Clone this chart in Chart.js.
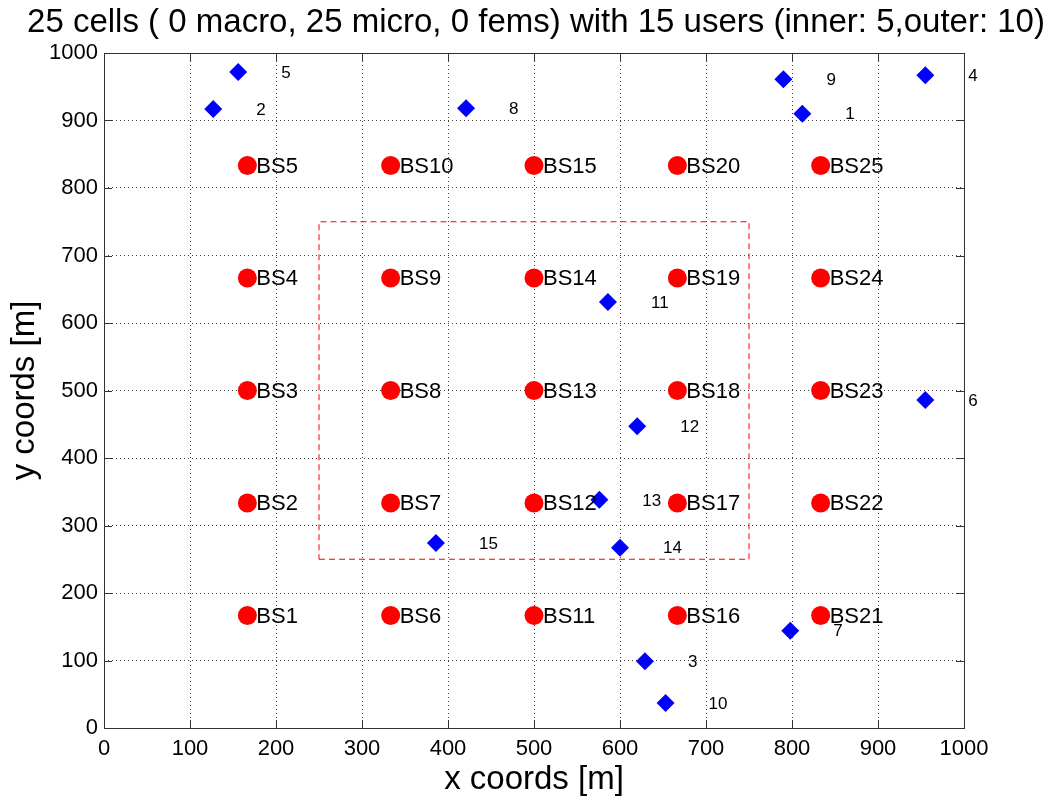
<!DOCTYPE html>
<html>
<head>
<meta charset="utf-8">
<title>cells and users</title>
<script src="https://cdn.jsdelivr.net/npm/chart.js@4.4.0/dist/chart.umd.min.js"></script>
<style>
  body { margin: 0; background: #fff; }
  canvas { display: block; }
</style>
</head>
<body>
<canvas id="layout" width="1049" height="800"></canvas>
<script>
// base stations (micro cells)
const bsX = [166.7, 166.7, 166.7, 166.7, 166.7, 333.3, 333.3, 333.3, 333.3, 333.3,
             500, 500, 500, 500, 500, 666.7, 666.7, 666.7, 666.7, 666.7,
             833.3, 833.3, 833.3, 833.3, 833.3];
const bsY = [166.7, 333.3, 500, 666.7, 833.3, 166.7, 333.3, 500, 666.7, 833.3,
             166.7, 333.3, 500, 666.7, 833.3, 166.7, 333.3, 500, 666.7, 833.3,
             166.7, 333.3, 500, 666.7, 833.3];
const bsNames = ['BS1', 'BS2', 'BS3', 'BS4', 'BS5', 'BS6', 'BS7', 'BS8', 'BS9', 'BS10',
                 'BS11', 'BS12', 'BS13', 'BS14', 'BS15', 'BS16', 'BS17', 'BS18', 'BS19', 'BS20',
                 'BS21', 'BS22', 'BS23', 'BS24', 'BS25'];

// users
const userIds = ['1', '2', '3', '4', '5', '6', '7', '8', '9', '10', '11', '12', '13', '14', '15'];
const userX = [812, 127, 629, 955, 156, 955, 798, 421, 790, 653, 586, 620, 576, 600, 386];
const userY = [910, 917, 99, 967, 972, 486, 144, 918, 961, 37, 631, 447, 338, 267, 274];

// inner region outline
const innerX = [250, 750, 750, 250, 250];
const innerY = [250, 250, 750, 750, 250];

const xTicks = [0, 100, 200, 300, 400, 500, 600, 700, 800, 900, 1000];
const yTicks = [0, 100, 200, 300, 400, 500, 600, 700, 800, 900, 1000];

const titleText = '25 cells ( 0 macro, 25 micro, 0 fems) with 15 users (inner: 5,outer: 10)';
const FONT = '"Liberation Sans", Arial, sans-serif';

const toPoints = (xs, ys) => xs.map((x, i) => ({ x: x, y: ys[i] }));

// title, text labels next to the markers, box with inward ticks
const annotate = {
  id: 'annotate',
  afterDatasetsDraw(chart) {
    const ctx = chart.ctx;
    const xs = chart.scales.x, ys = chart.scales.y;
    ctx.save();
    ctx.fillStyle = '#000';
    ctx.textBaseline = 'middle';
    ctx.textAlign = 'left';
    ctx.font = '22px ' + FONT;
    bsNames.forEach((name, i) => {
      ctx.fillText(name, xs.getPixelForValue(bsX[i]) + 9, ys.getPixelForValue(bsY[i]) + 1);
    });
    ctx.font = '17px ' + FONT;
    userIds.forEach((id, i) => {
      ctx.fillText(id, xs.getPixelForValue(userX[i] + 50), ys.getPixelForValue(userY[i]) + 1);
    });
    ctx.restore();
  },
  afterDraw(chart) {
    const ctx = chart.ctx;
    const a = chart.chartArea;
    const xs = chart.scales.x, ys = chart.scales.y;
    ctx.save();
    ctx.strokeStyle = '#333';
    ctx.lineWidth = 1;
    ctx.strokeRect(a.left + 0.5, a.top + 0.5, a.right - a.left, a.bottom - a.top);
    ctx.beginPath();
    xTicks.forEach(v => {
      const px = Math.round(xs.getPixelForValue(v)) + 0.5;
      ctx.moveTo(px, a.bottom); ctx.lineTo(px, a.bottom - 8);
      ctx.moveTo(px, a.top); ctx.lineTo(px, a.top + 8);
    });
    yTicks.forEach(v => {
      const py = Math.round(ys.getPixelForValue(v)) + 0.5;
      ctx.moveTo(a.left, py); ctx.lineTo(a.left + 8, py);
      ctx.moveTo(a.right, py); ctx.lineTo(a.right - 8, py);
    });
    ctx.stroke();

    // title (MATLAB centers it a little right of the axes)
    ctx.fillStyle = '#000';
    ctx.font = '33px ' + FONT;
    ctx.textAlign = 'center';
    ctx.textBaseline = 'alphabetic';
    ctx.fillText(titleText, 536, 32);
    ctx.restore();
  }
};

new Chart(document.getElementById('layout'), {
  type: 'scatter',
  data: {
    datasets: [
      {
        label: 'inner region',
        data: toPoints(innerX, innerY),
        showLine: true,
        borderColor: '#ff0000',
        borderWidth: 1,
        borderDash: [6, 4],
        pointRadius: 0,
        fill: false
      },
      {
        label: 'BS',
        data: toPoints(bsX, bsY),
        pointStyle: 'circle',
        pointRadius: 9.5,
        backgroundColor: '#ff0000',
        borderColor: '#ff0000',
        borderWidth: 0
      },
      {
        label: 'users',
        data: toPoints(userX, userY),
        pointStyle: 'rectRot',
        pointRadius: 9,
        backgroundColor: '#0000ff',
        borderColor: '#0000ff',
        borderWidth: 0
      }
    ]
  },
  options: {
    responsive: false,
    animation: false,
    layout: { padding: { left: 0, right: 85, top: 53, bottom: 0 } },
    plugins: {
      legend: { display: false },
      tooltip: { enabled: false },
      title: { display: false }
    },
    scales: {
      x: {
        type: 'linear',
        min: 0,
        max: 1000,
        afterBuildTicks: s => { s.ticks = xTicks.map(v => ({ value: v })); },
        afterFit: s => { s.height = 72; },
        ticks: { color: '#000', font: { family: FONT, size: 22 }, padding: 8, maxRotation: 0, callback: v => String(v) },
        grid: { color: 'rgba(0,0,0,0.75)', drawTicks: false },
        border: { display: false, dash: [1, 3] },
        title: { display: true, text: 'x coords [m]', color: '#000', font: { family: FONT, size: 33 }, padding: 0 }
      },
      y: {
        type: 'linear',
        min: 0,
        max: 1000,
        afterBuildTicks: s => { s.ticks = yTicks.map(v => ({ value: v })); },
        afterFit: s => { s.width = 104; },
        ticks: { color: '#000', font: { family: FONT, size: 22 }, padding: 6, callback: v => String(v) },
        grid: { color: 'rgba(0,0,0,0.75)', drawTicks: false },
        border: { display: false, dash: [1, 3] },
        title: { display: true, text: 'y coords [m]', color: '#000', font: { family: FONT, size: 33 }, padding: { top: 5, bottom: 0 } }
      }
    }
  },
  plugins: [annotate]
});
</script>
</body>
</html>
